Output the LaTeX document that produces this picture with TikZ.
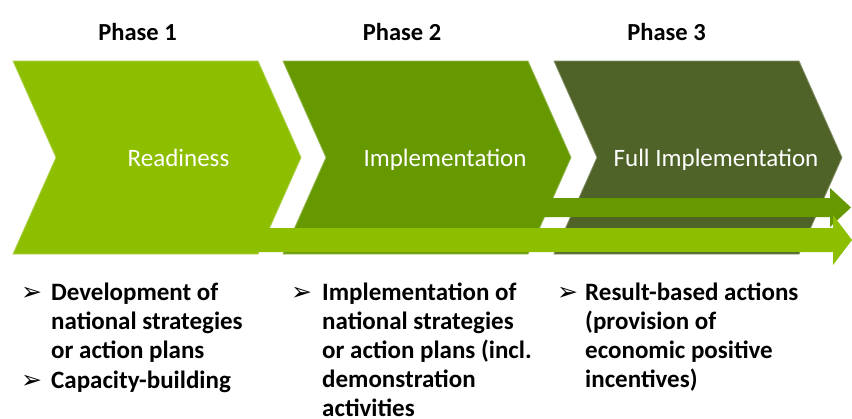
\documentclass[tikz,border=0pt]{standalone}
\usepackage{fontspec}
\setmainfont{Carlito}
\newfontfamily\dejavu{DejaVu Sans}
\definecolor{gA}{RGB}{141,190,0}
\definecolor{gB}{RGB}{102,153,0}
\definecolor{gC}{RGB}{79,98,40}
\begin{document}
\begin{tikzpicture}[x=1pt,y=-1pt,
  chevlabel/.style={text=white,font=\fontsize{25}{29}\selectfont,inner sep=0pt,anchor=base},
  phase/.style={font=\fontsize{24.5}{29}\selectfont\bfseries,inner sep=0pt,anchor=base},
  bullettext/.style={font=\fontsize{25}{29}\selectfont\bfseries,inner sep=0pt,align=left,anchor=base west},
  marker/.style={font=\dejavu\fontsize{25}{28}\selectfont,inner sep=0pt,anchor=base west}]
\useasboundingbox (0,0) rectangle (852,418);
% chevrons
\foreach \x/\c in {13/gA,283/gB,554/gC}{
  \filldraw[fill=\c,draw=\c!70!white,line width=0.8pt]
    (\x,61) -- ++(245,0) -- ++(43,96.5) -- ++(-43,96.5) -- ++(-245,0) -- ++(43,-96.5) -- cycle;
}
% arrows
\fill[gB] (540,198) -- (830,198) -- (830,188) -- (851,207.5) -- (830,227) -- (830,217) -- (540,217) -- cycle;
\fill[gA] (255,228) -- (833,228) -- (833,215) -- (852,240) -- (833,265) -- (833,252) -- (255,252) -- cycle;
% chevron labels
\node[chevlabel] (l1) at (178.5,166) {Readiness};
\node[chevlabel] (l2) at (445,166) {Implementation};
\node[chevlabel] (l3) at (716,166) {Full Implementation};
% phase labels
\node[phase] (p1) at (137.5,40) {Phase 1};
\node[phase] (p2) at (402,40) {Phase 2};
\node[phase] (p3) at (666.5,40) {Phase 3};
% bullets (base anchor = baseline of the last line)
\node[marker] (m1) at (21,300) {➢};
\node[bullettext] (b1) at (51,358) {Development of\\national strategies\\or action plans};
\node[marker] (m2) at (21,388) {➢};
\node[bullettext] (b2) at (51,388) {Capacity-building};
\node[marker] (m3) at (291,300) {➢};
\node[bullettext] (b3) at (322,416) {Implementation of\\national strategies\\or action plans (incl.\\demonstration\\activities};
\node[marker] (m4) at (557,300) {➢};
\node[bullettext] (b4) at (585,387) {Result-based actions\\(provision of\\economic positive\\incentives)};
\end{tikzpicture}
\end{document}
